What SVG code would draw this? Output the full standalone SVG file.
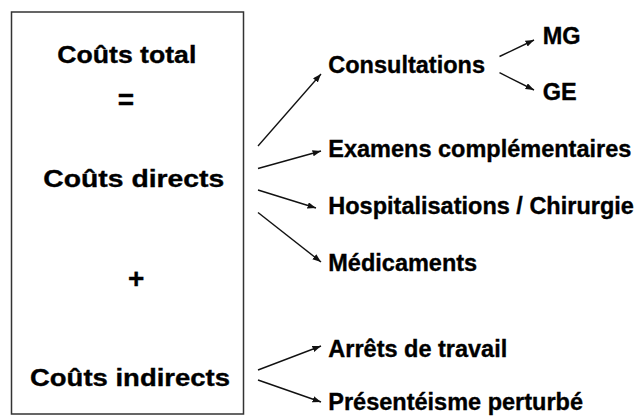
<svg xmlns="http://www.w3.org/2000/svg" width="636" height="416" viewBox="0 0 636 416">
<style>
.t{font-family:"Liberation Sans",Arial,Helvetica,sans-serif;font-weight:bold;fill:#000;stroke:#000;stroke-width:0.35}
.b{font-size:24px}
.r{font-size:23.5px}
.c{stroke:#111;stroke-width:1.4;fill:none;marker-end:url(#ah)}
</style>
<defs>
<marker id="ah" markerUnits="userSpaceOnUse" markerWidth="9" markerHeight="7" refX="8.5" refY="3.2" orient="auto">
<path d="M0,0 L8.5,3.2 L0,6.4 z" fill="#111"/>
</marker>
</defs>
<rect width="636" height="416" fill="#fff"/>
<g id="box">
<rect x="11.5" y="12" width="232" height="402" fill="#fff" stroke="#333" stroke-width="1.5"/>
<text class="t b" x="57.3" y="62.5" textLength="139" lengthAdjust="spacingAndGlyphs">Coûts total</text>
<text class="t" x="126" y="108.5" font-size="28" text-anchor="middle">=</text>
<text class="t b" x="43.3" y="186.7" textLength="181" lengthAdjust="spacingAndGlyphs">Coûts directs</text>
<text class="t" x="136.3" y="288" font-size="28" text-anchor="middle">+</text>
<text class="t b" x="30" y="386" textLength="200" lengthAdjust="spacingAndGlyphs">Coûts indirects</text>
</g>
<g id="consultations"><text class="t r" x="328.3" y="72.7">Consultations</text></g>
<g id="mg"><text class="t r" x="542.7" y="44.3">MG</text></g>
<g id="ge"><text class="t r" x="542.7" y="100">GE</text></g>
<g id="examens"><text class="t r" x="328.3" y="156.7">Examens complémentaires</text></g>
<g id="hospitalisations"><text class="t r" x="328.3" y="213.5">Hospitalisations / Chirurgie</text></g>
<g id="medicaments"><text class="t r" x="328.3" y="271">Médicaments</text></g>
<g id="arrets"><text class="t r" x="328.3" y="356.5">Arrêts de travail</text></g>
<g id="presenteisme"><text class="t r" x="328.3" y="410">Présentéisme perturbé</text></g>
<g id="connectors">
<line class="c" x1="258" y1="146" x2="321" y2="74"/>
<line class="c" x1="258" y1="168.5" x2="321" y2="151"/>
<line class="c" x1="258" y1="190" x2="316" y2="208"/>
<line class="c" x1="258" y1="212.5" x2="321" y2="262"/>
<line class="c" x1="258" y1="370" x2="321" y2="346"/>
<line class="c" x1="258" y1="380" x2="321" y2="402"/>
<line class="c" x1="499.5" y1="56.5" x2="534" y2="40"/>
<line class="c" x1="499.5" y1="72.7" x2="534" y2="90"/>
</g>
</svg>
